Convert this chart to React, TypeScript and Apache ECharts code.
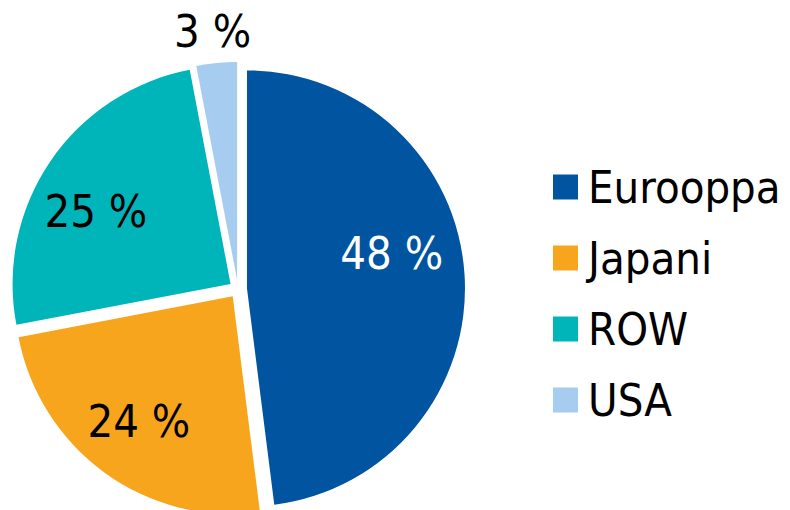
import React, { useEffect, useRef } from "react";
import * as echarts from "echarts";

const categories = ["Eurooppa", "Japani", "ROW", "USA"];
const values = [48, 24, 25, 3];
const colors = ["#0054A0", "#F8A51E", "#00B5B9", "#A6CDF0"];
const labelColors = ["#ffffff", "#000000", "#000000", "#000000"];
const labelShift = [
  [33, -28],
  [-28, 35],
  [-42, -9],
  [-14, -137],
];

const FONT = "'DejaVu Sans Condensed', 'DejaVu Sans', sans-serif";

export default function App() {
  const ref = useRef<HTMLDivElement>(null);
  useEffect(() => {
    if (!ref.current) return;
    const chart = echarts.init(ref.current, null, { renderer: "svg" });
    chart.setOption({
      animation: false,
      backgroundColor: "#ffffff",
      textStyle: { fontFamily: FONT },
      legend: {
        orient: "vertical",
        left: 548,
        top: 157,
        itemWidth: 25,
        itemHeight: 25,
        itemGap: 21,
        icon: "rect",
        selectedMode: false,
        data: categories,
        textStyle: {
          fontFamily: FONT,
          fontSize: 45,
          lineHeight: 50,
          color: "#000000",
          padding: [0, 0, 0, 5],
        },
      },
      series: [
        {
          type: "pie",
          center: [238, 289],
          radius: 218,
          startAngle: 90,
          clockwise: true,
          selectedMode: "multiple",
          selectedOffset: 9,
          avoidLabelOverlap: false,
          emphasis: { disabled: true },
          label: {
            show: true,
            position: "inside",
            formatter: "{c} %",
            fontFamily: FONT,
            fontSize: 45,
          },
          labelLine: { show: false },
          labelLayout: (params: any) => ({
            dx: labelShift[params.dataIndex][0],
            dy: labelShift[params.dataIndex][1],
          }),
          data: categories.map((name, i) => ({
            name,
            value: values[i],
            selected: true,
            itemStyle: { color: colors[i] },
            label: { color: labelColors[i] },
          })),
        },
      ],
    });
    return () => chart.dispose();
  }, []);
  return (
    <div
      ref={ref}
      style={{ position: "fixed", left: 0, top: 0, width: 790, height: 510 }}
    />
  );
}
